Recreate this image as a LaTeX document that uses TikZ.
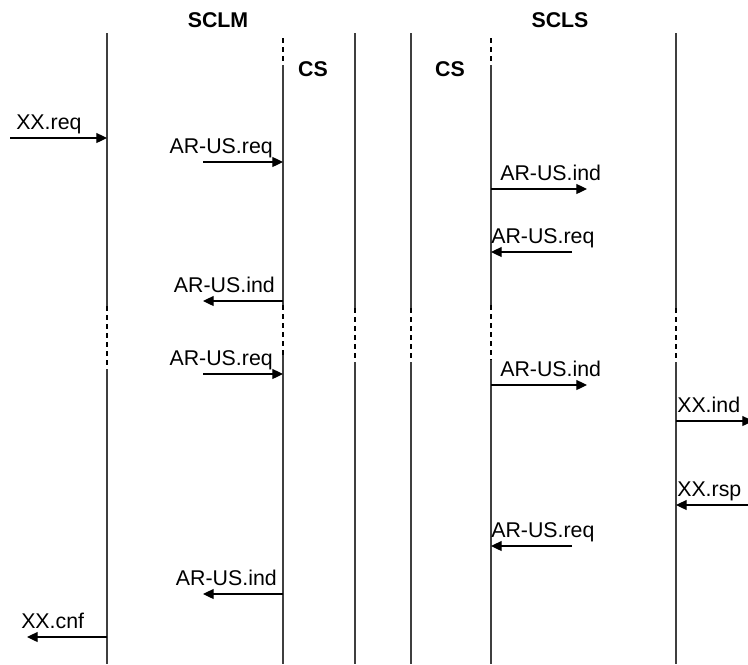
\documentclass[tikz,border=0pt]{standalone}
\usepackage{fontspec}
\setmainfont{Liberation Sans}
\usetikzlibrary{arrows.meta}
\definecolor{ink}{HTML}{000000}
\definecolor{life}{HTML}{3F3F3F}
\tikzset{
  lifeline/.style={draw=life,line width=1.2pt},
  cut/.style={draw=ink,line width=1.6pt,dash pattern=on 3.8pt off 3pt},
  msg/.style={-{Triangle[length=8pt,width=7.5pt]},line width=0.9pt,draw=ink},
  lbl/.style={font=\fontsize{16}{19}\selectfont,text=ink,inner sep=0pt},
  hdr/.style={lbl,font=\fontsize{16}{19}\selectfont\bfseries},
}

\begin{document}
\begin{tikzpicture}[x=0.75pt,y=-0.75pt]
    \useasboundingbox (0,0) rectangle (748,664);
    % lifelines, cut in the middle
    \foreach \n/\x/\t/\a/\b in {sclmA/107/33/306/369,sclmB/283/65/305/355,csA/355/33/308/362,csB/411/33/308/362,sclsA/491/65/305/360,sclsB/676/33/308/362}{
      \coordinate (\n) at (\x,\t);
      \draw[lifeline] (\x,\t) -- (\x,\a) (\x,\b) -- (\x,664);
      \draw[cut] (\x,\a) -- (\x,\b);
    }
    \draw[cut] (283,38) -- (283,63) (491,38) -- (491,63);
    \node[hdr,anchor=base] (sclm) at (218,27) {SCLM};
    \node[hdr,anchor=base] (scls) at (560,27) {SCLS};
    \node[hdr,anchor=base] (csm) at (313,76) {CS};
    \node[hdr,anchor=base] (css) at (450,76) {CS};
    % first exchange
    \coordinate (p1) at (10,138);
    \draw[msg] (p1) -- (p1 -| sclmA);
    \node[lbl,anchor=base west] (l1) at (16,129) {XX.req};
    \coordinate (p2) at (203,162);
    \draw[msg] (p2) -- (p2 -| sclmB);
    \node[lbl,anchor=base east] (l2) at (273,153) {AR-US.req};
    \coordinate (p3) at (587,189);
    \draw[msg] (p3 -| sclsA) -- (p3);
    \node[lbl,anchor=base west] (l3) at (500,180) {AR-US.ind};
    \coordinate (p4) at (572,252);
    \draw[msg] (p4) -- (p4 -| sclsA);
    \node[lbl,anchor=base west] (l4) at (491,243) {AR-US.req};
    \coordinate (p5) at (203,301);
    \draw[msg] (p5 -| sclmB) -- (p5);
    \node[lbl,anchor=base east] (l5) at (275,292) {AR-US.ind};
    % second exchange
    \coordinate (p6) at (203,374);
    \draw[msg] (p6) -- (p6 -| sclmB);
    \node[lbl,anchor=base east] (l6) at (273,365) {AR-US.req};
    \coordinate (p7) at (587,385);
    \draw[msg] (p7 -| sclsA) -- (p7);
    \node[lbl,anchor=base west] (l7) at (500,376) {AR-US.ind};
    \coordinate (p8) at (753,421);
    \draw[msg] (p8 -| sclsB) -- (p8);
    \node[lbl,anchor=base west] (l8) at (677,412) {XX.ind};
    \coordinate (p9) at (748,505);
    \draw[msg] (p9) -- (p9 -| sclsB);
    \node[lbl,anchor=base west] (l9) at (677,496) {XX.rsp};
    \coordinate (p10) at (572,546);
    \draw[msg] (p10) -- (p10 -| sclsA);
    \node[lbl,anchor=base west] (l10) at (491,537) {AR-US.req};
    \coordinate (p11) at (203,594);
    \draw[msg] (p11 -| sclmB) -- (p11);
    \node[lbl,anchor=base east] (l11) at (277,585) {AR-US.ind};
    \coordinate (p12) at (27,637);
    \draw[msg] (p12 -| sclmA) -- (p12);
    \node[lbl,anchor=base west] (l12) at (21,628) {XX.cnf};
\end{tikzpicture}
\end{document}
